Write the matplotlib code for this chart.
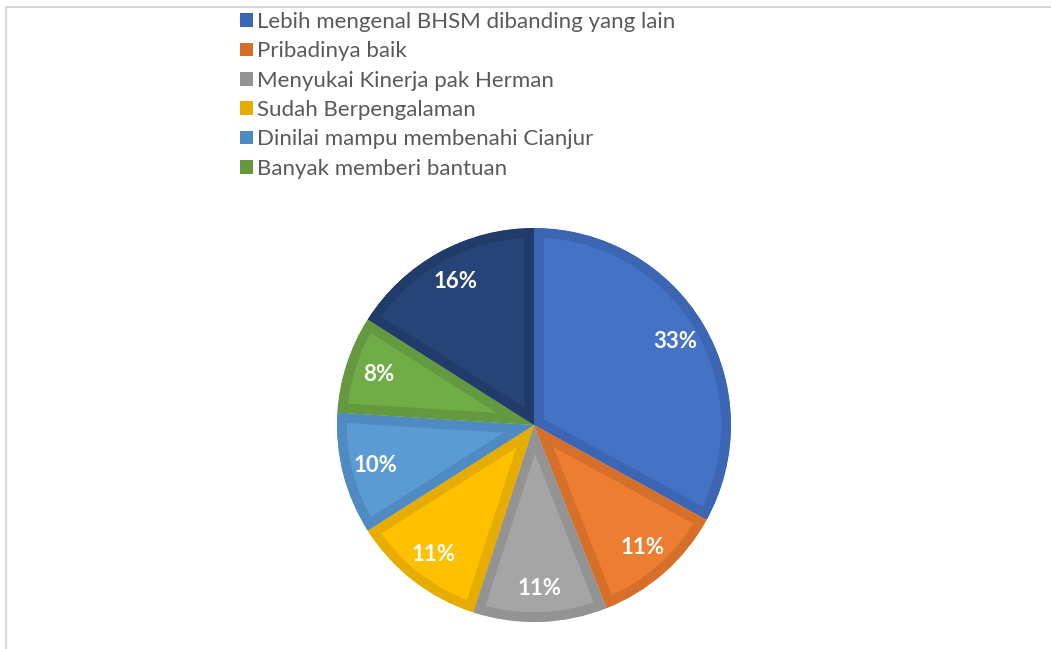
import matplotlib
matplotlib.use('Agg')
import matplotlib.pyplot as plt
from matplotlib.patches import Patch
from matplotlib.lines import Line2D

W, H = 1051, 649
DPI = 100

labels = [
    'Lebih mengenal BHSM dibanding yang lain',
    'Pribadinya baik',
    'Menyukai Kinerja pak Herman',
    'Sudah Berpengalaman',
    'Dinilai mampu membenahi Cianjur',
    'Banyak memberi bantuan',
]
values = [33, 11, 11, 11, 10, 8, 16]
fills = ['#4472C4', '#ED7D31', '#A5A5A5', '#FFC000', '#5B9BD5', '#70AD47', '#264478']
edges = ['#3C66B3', '#D66F2A', '#939393', '#E6AC00', '#4F8BC2', '#64993F', '#213C6B']

plt.rcParams['font.family'] = ['Lato', 'DejaVu Sans']

fig = plt.figure(figsize=(W / DPI, H / DPI), dpi=DPI)

# pie centred at (534, 425) px, radius 197 px
cx, cy, r = 534, 425, 197
ax = fig.add_axes([(cx - r) / W, (H - cy - r) / H, 2 * r / W, 2 * r / H])

wedges, texts, autotexts = ax.pie(
    values, colors=fills, startangle=90, counterclock=False,
    autopct='%1.0f%%', pctdistance=0.83,
    wedgeprops=dict(linewidth=14, joinstyle='miter'),
    textprops=dict(color='white', fontsize=16, fontweight='bold'),
)
for w, ec in zip(wedges, edges):
    w.set_edgecolor(ec)
    w.set_clip_on(True)
    w.set_clip_path(w)  # keep the border inside each slice
ax.set_xlim(-1, 1)
ax.set_ylim(-1, 1)
ax.axis('off')

handles = [Patch(facecolor=c, edgecolor='none') for c in edges[:len(labels)]]
fig.legend(handles, labels, loc='upper left', bbox_to_anchor=(240 / W, 1 - 12 / H),
           frameon=False, fontsize=16, labelcolor='#595959',
           handlelength=0.58, handleheight=0.58, handletextpad=0.2,
           labelspacing=0.42, borderpad=0, borderaxespad=0)

# light frame lines at top and left
fig.add_artist(Line2D([6 / W, 1], [1 - 7 / H, 1 - 7 / H], color='#d9d9d9', lw=1.5))
fig.add_artist(Line2D([6 / W, 6 / W], [0, 1 - 7 / H], color='#d9d9d9', lw=1.5))

fig.savefig('out.png', dpi=DPI)
